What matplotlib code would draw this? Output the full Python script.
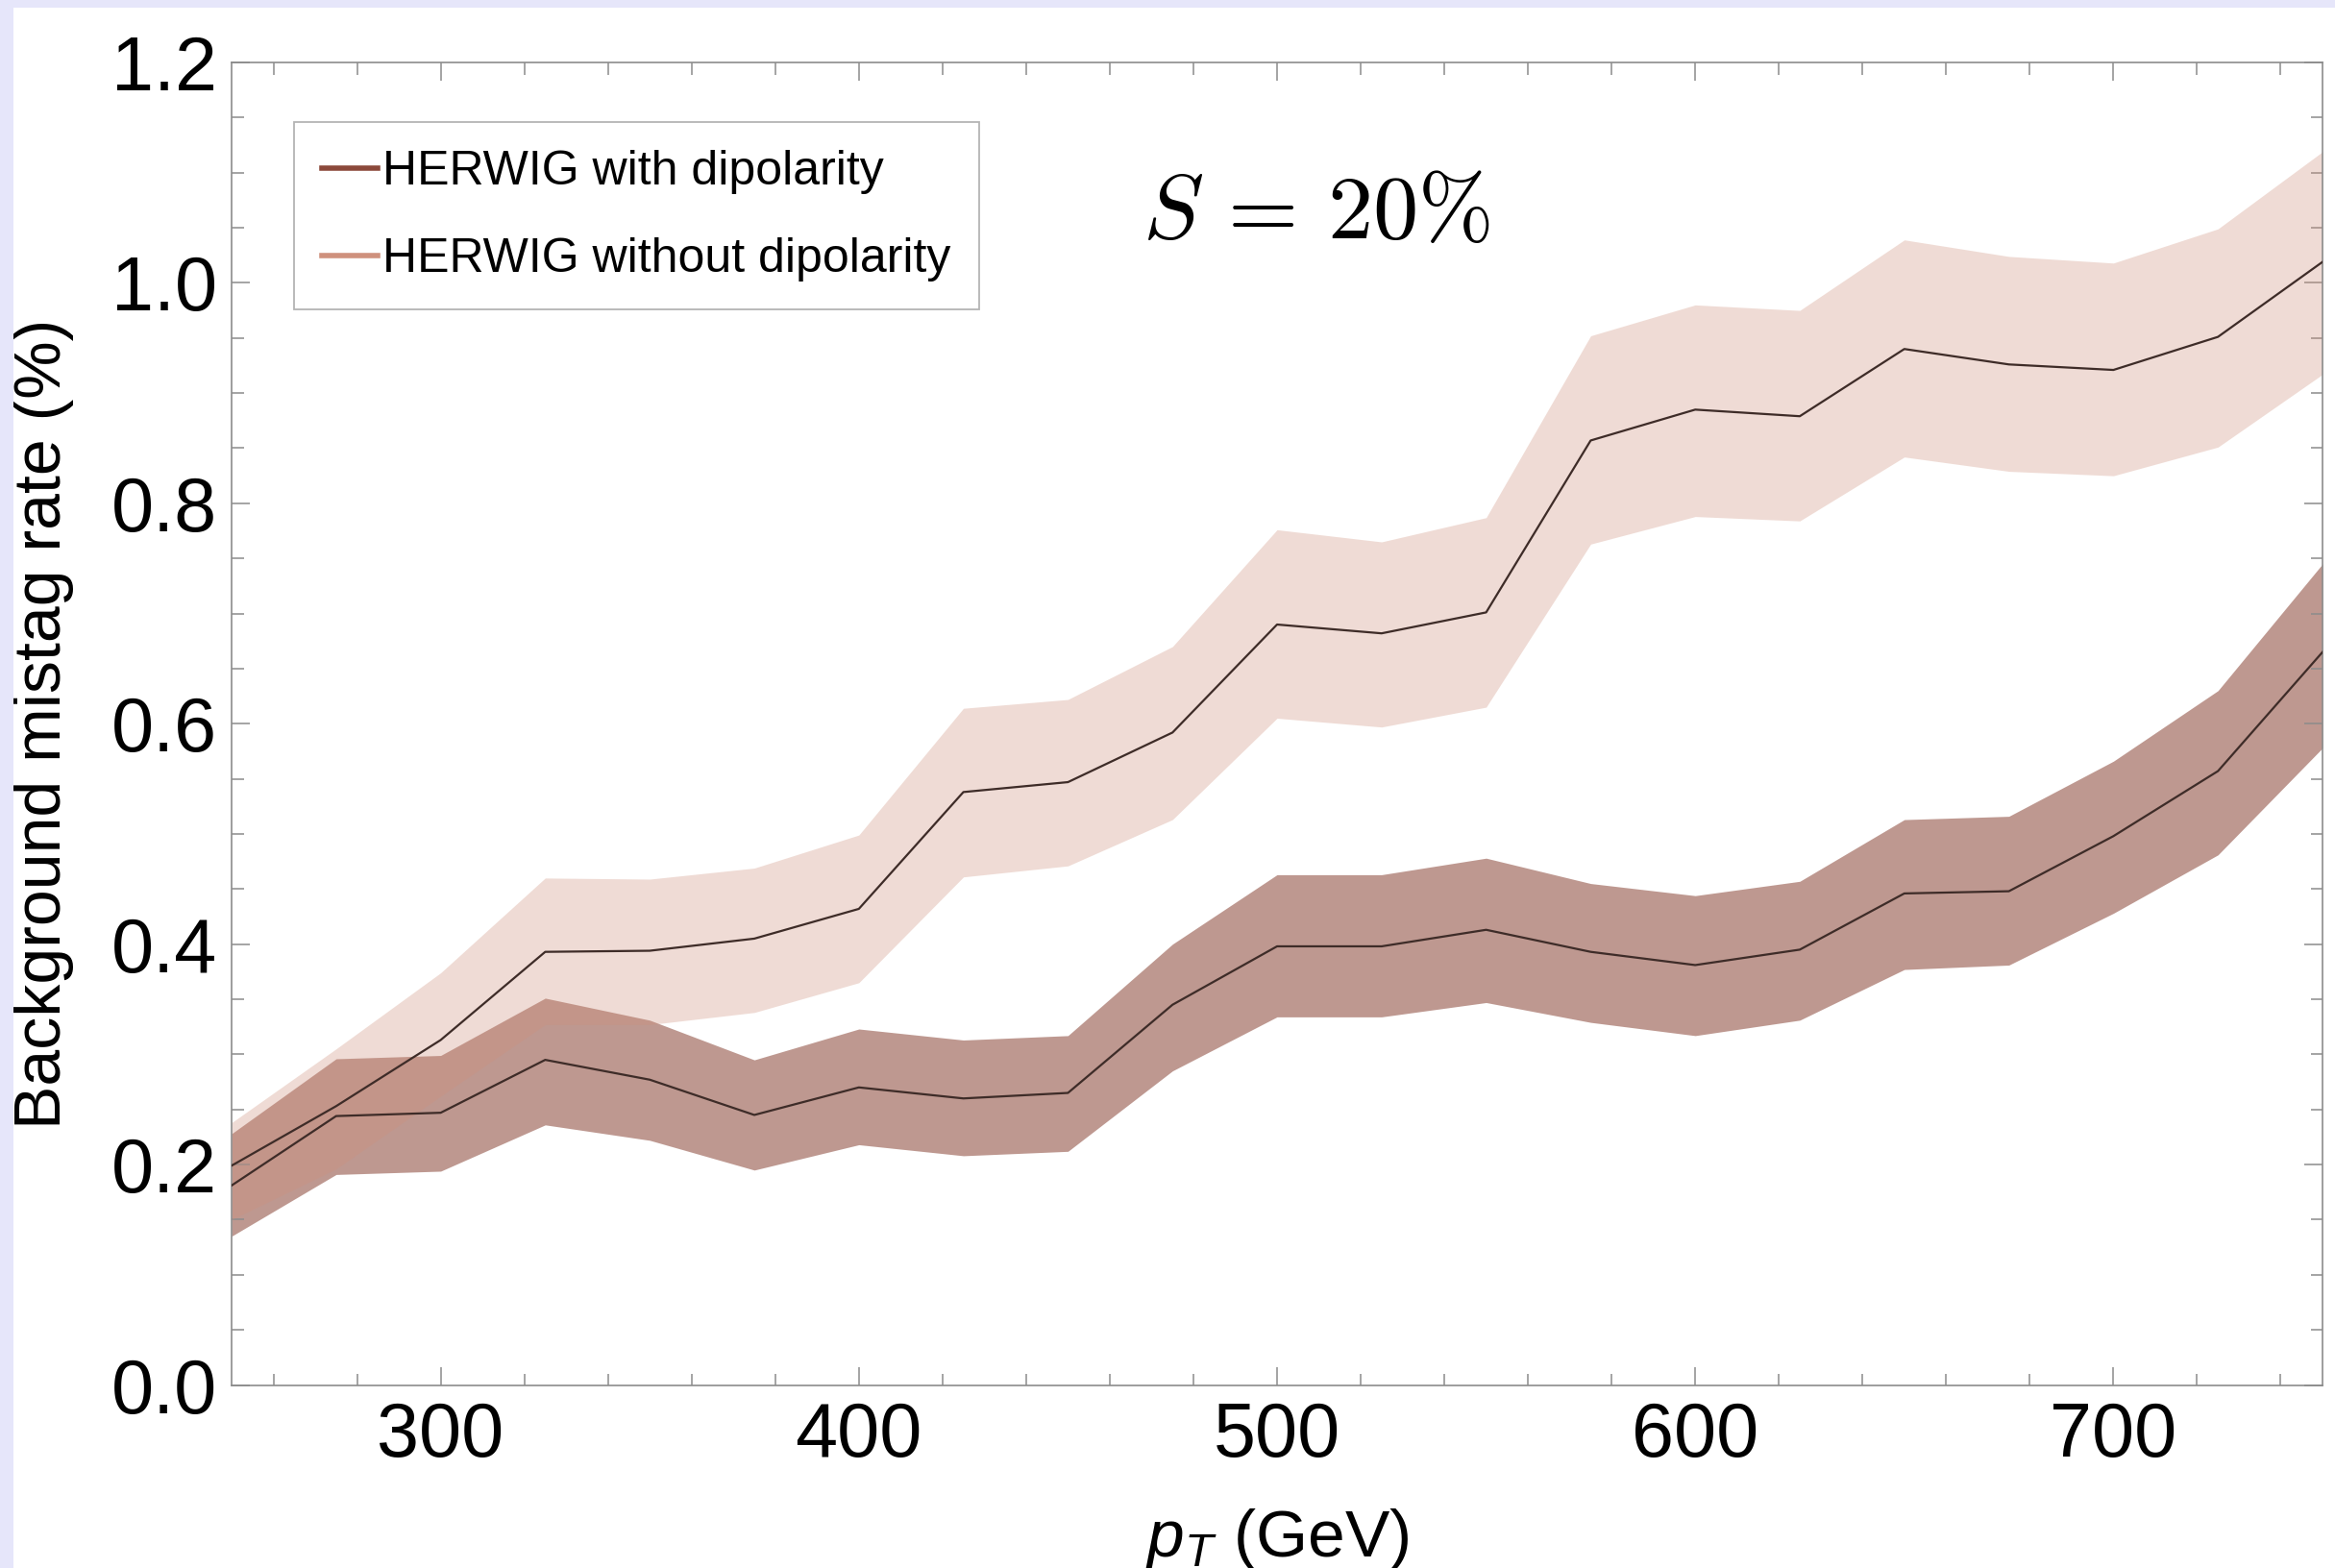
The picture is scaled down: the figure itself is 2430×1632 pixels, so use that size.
import matplotlib
matplotlib.use("Agg")
import matplotlib.pyplot as plt
from matplotlib.lines import Line2D
from matplotlib.patches import Rectangle
from matplotlib.ticker import MultipleLocator

plt.rcParams["font.family"] = ["Liberation Sans", "DejaVu Sans"]
plt.rcParams["mathtext.fontset"] = "custom"
plt.rcParams["mathtext.it"] = "Liberation Sans:italic"
plt.rcParams["mathtext.rm"] = "Liberation Sans"

# jet pT bins (GeV)
pt = [250, 275, 300, 325, 350, 375, 400, 425, 450, 475, 500,
      525, 550, 575, 600, 625, 650, 675, 700, 725, 750]

# mistag rate (%) with dipolarity cut, and its uncertainty band
with_dip = [0.181, 0.244, 0.247, 0.295, 0.277, 0.245, 0.270, 0.260, 0.265, 0.345, 0.398,
            0.398, 0.413, 0.393, 0.381, 0.395, 0.446, 0.448, 0.498, 0.557, 0.665]
with_hi = [0.228, 0.296, 0.299, 0.351, 0.331, 0.295, 0.323, 0.313, 0.317, 0.400, 0.463,
           0.463, 0.478, 0.455, 0.444, 0.457, 0.513, 0.516, 0.566, 0.630, 0.745]
with_lo = [0.135, 0.191, 0.194, 0.236, 0.222, 0.195, 0.218, 0.208, 0.212, 0.285, 0.334,
           0.334, 0.347, 0.329, 0.317, 0.331, 0.377, 0.381, 0.428, 0.481, 0.578]

# mistag rate (%) without dipolarity cut
without_dip = [0.199, 0.253, 0.313, 0.393, 0.394, 0.405, 0.432, 0.538, 0.547, 0.592, 0.690,
               0.682, 0.701, 0.857, 0.885, 0.879, 0.940, 0.926, 0.921, 0.951, 1.019]
without_hi = [0.238, 0.305, 0.374, 0.460, 0.459, 0.469, 0.499, 0.614, 0.622, 0.670, 0.776,
              0.765, 0.787, 0.952, 0.980, 0.975, 1.039, 1.024, 1.018, 1.049, 1.119]
without_lo = [0.150, 0.196, 0.262, 0.327, 0.327, 0.338, 0.365, 0.461, 0.471, 0.513, 0.605,
              0.597, 0.615, 0.763, 0.788, 0.784, 0.842, 0.829, 0.825, 0.851, 0.917]

labels = ["HERWIG with dipolarity", "HERWIG without dipolarity"]
dark = "#8b483a"
light = "#cf917d"
line_col = "#3e2c28"
frame_col = "#8c8c8c"

fig = plt.figure(figsize=(24.3, 16.32), dpi=100)
fig.patch.set_facecolor("white")
# lavender page margin along the top and left edges
fig.patches.append(Rectangle((0, 1 - 8 / 1632), 1, 8 / 1632, transform=fig.transFigure,
                             facecolor="#e6e6fa", edgecolor="none", zorder=0))
fig.patches.append(Rectangle((0, 0), 14 / 2430, 1, transform=fig.transFigure,
                             facecolor="#e6e6fa", edgecolor="none", zorder=0))

ax = fig.add_axes([241 / 2430, 1 - 1441.5 / 1632, 2176 / 2430, 1376.5 / 1632])

ax.fill_between(pt, with_lo, with_hi, color=dark, alpha=0.56, linewidth=0, zorder=1)
ax.fill_between(pt, without_lo, without_hi, color=light, alpha=0.32, linewidth=0, zorder=2)
ax.plot(pt, with_dip, color=line_col, lw=1.6, zorder=3)
ax.plot(pt, without_dip, color=line_col, lw=1.6, zorder=3)

ax.set_xlim(250, 750)
ax.set_ylim(0, 1.2)
ax.xaxis.set_major_locator(MultipleLocator(100))
ax.xaxis.set_minor_locator(MultipleLocator(20))
ax.yaxis.set_major_locator(MultipleLocator(0.2))
ax.yaxis.set_minor_locator(MultipleLocator(0.05))
ax.yaxis.set_major_formatter(plt.FuncFormatter(lambda v, p: f"{v:.1f}"))

for s in ax.spines.values():
    s.set_color(frame_col)
    s.set_linewidth(1.2)
ax.tick_params(which="both", direction="in", top=True, right=True,
               color=frame_col, width=1.1, labelsize=57)
ax.tick_params(which="major", length=14)
ax.tick_params(which="minor", length=9)
ax.tick_params(axis="x", pad=12)
ax.tick_params(axis="y", pad=11)

ax.set_xlabel(r"$p_T$ (GeV)", fontsize=50)
ax.xaxis.label.set_va("baseline")
ax.xaxis.set_label_coords(0.5, -(1620 - 1441.5) / 1376.5)
ax.set_ylabel("Background mistag rate (%)", fontsize=49)
ax.yaxis.label.set_va("center")
ax.yaxis.set_label_coords(-(241 - 45) / 2176, 0.50)

ax.text((1189 - 241) / 2176, (1441.5 - 248) / 1376.5, r"$S\,=\,20\%$",
        transform=ax.transAxes, math_fontfamily="cm", fontsize=68,
        ha="left", va="baseline")

handles = [Line2D([], [], color=dark, lw=4), Line2D([], [], color=light, lw=4)]
leg = ax.legend(handles, labels, loc="upper left",
                bbox_to_anchor=((306 - 241) / 2176, (1441.5 - 127) / 1376.5),
                borderaxespad=0, fontsize=36, handlelength=1.15, handletextpad=0.12,
                borderpad=0.58, labelspacing=0.9, fancybox=False, framealpha=1)
leg.get_frame().set_edgecolor("#b4b4b4")
leg.get_frame().set_linewidth(1.3)

fig.savefig("out.png", dpi=100)
